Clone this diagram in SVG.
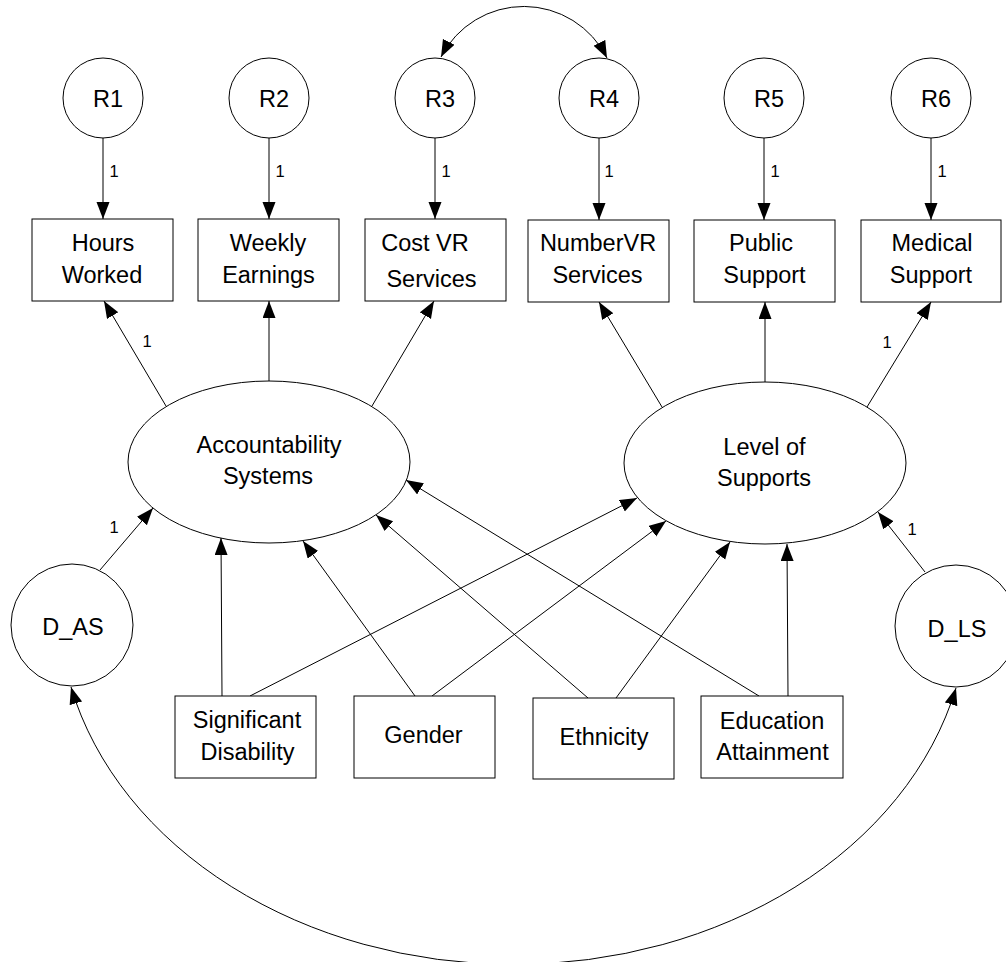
<svg xmlns="http://www.w3.org/2000/svg" width="1006" height="962" viewBox="0 0 1006 962">
<style>
  .n { fill: #fff; stroke: #000; stroke-width: 1; }
  .t { font-family: "Liberation Sans", Arial, sans-serif; font-size: 23.5px; fill: #000; text-anchor: middle; }
  .l { font-family: "Liberation Sans", Arial, sans-serif; font-size: 16.5px; fill: #000; text-anchor: middle; }
  .c { fill: none; stroke: #000; stroke-width: 1; marker-end: url(#ah); }
  .b { fill: none; stroke: #000; stroke-width: 1; marker-start: url(#ah); marker-end: url(#ah); }
</style>
<defs>
  <marker id="ah" markerUnits="userSpaceOnUse" markerWidth="18" markerHeight="14" refX="17" refY="6.5" orient="auto-start-reverse" viewBox="0 0 18 14">
    <path d="M0,0 L17,6.5 L0,13 z" fill="#000"/>
  </marker>
</defs>
<rect width="1006" height="962" fill="#fff"/>

<g id="connectors">
  <line class="c" x1="103" y1="138" x2="103" y2="219"/>
  <line class="c" x1="269" y1="138" x2="269" y2="219"/>
  <line class="c" x1="435" y1="138" x2="435" y2="219"/>
  <line class="c" x1="599" y1="138" x2="599" y2="220"/>
  <line class="c" x1="764" y1="138" x2="764" y2="220"/>
  <line class="c" x1="931" y1="138" x2="931" y2="220"/>
  <path class="b" d="M441,57 A93,93 0 0 1 607,58"/>
  <line class="c" x1="166" y1="406" x2="104" y2="301"/>
  <line class="c" x1="269" y1="381" x2="269" y2="301"/>
  <line class="c" x1="372" y1="406" x2="434" y2="301"/>
  <line class="c" x1="662" y1="407" x2="599" y2="302"/>
  <line class="c" x1="765" y1="382" x2="765" y2="302"/>
  <line class="c" x1="867" y1="407" x2="931" y2="302"/>
  <line class="c" x1="100" y1="570" x2="153" y2="508"/>
  <line class="c" x1="925" y1="572" x2="878" y2="512"/>
  <line class="c" x1="222" y1="696" x2="221" y2="538"/>
  <line class="c" x1="250" y1="696" x2="637" y2="498"/>
  <line class="c" x1="415" y1="696" x2="303" y2="541"/>
  <line class="c" x1="432" y1="696" x2="666" y2="521"/>
  <line class="c" x1="588" y1="698" x2="376" y2="515"/>
  <line class="c" x1="616" y1="698" x2="730" y2="542"/>
  <line class="c" x1="759" y1="696" x2="406" y2="480"/>
  <line class="c" x1="788" y1="696" x2="787" y2="544"/>
  <path class="b" d="M71,687 A455,361 0 0 0 956,688"/>
  <text class="l" x="114" y="177">1</text>
  <text class="l" x="280" y="177">1</text>
  <text class="l" x="446" y="177">1</text>
  <text class="l" x="609" y="177">1</text>
  <text class="l" x="775" y="177">1</text>
  <text class="l" x="942" y="177">1</text>
  <text class="l" x="147" y="347">1</text>
  <text class="l" x="887" y="348">1</text>
  <text class="l" x="114" y="533">1</text>
  <text class="l" x="912" y="535">1</text>
</g>

<g id="R1"><circle class="n" cx="103" cy="98" r="40"/><text class="t" x="108" y="107">R1</text></g>
<g id="R2"><circle class="n" cx="269" cy="98" r="40"/><text class="t" x="274" y="107">R2</text></g>
<g id="R3"><circle class="n" cx="435" cy="98" r="40"/><text class="t" x="440" y="107">R3</text></g>
<g id="R4"><circle class="n" cx="599" cy="98" r="40"/><text class="t" x="604" y="107">R4</text></g>
<g id="R5"><circle class="n" cx="764" cy="98" r="40"/><text class="t" x="769" y="107">R5</text></g>
<g id="R6"><circle class="n" cx="931" cy="98" r="40"/><text class="t" x="936" y="107">R6</text></g>

<g id="HoursWorked"><rect class="n" x="32" y="219" width="141" height="82"/><text class="t" x="103" y="251">Hours</text><text class="t" x="102" y="283">Worked</text></g>
<g id="WeeklyEarnings"><rect class="n" x="198" y="219" width="141" height="82"/><text class="t" x="268" y="251">Weekly</text><text class="t" x="268.5" y="283">Earnings</text></g>
<g id="CostVRServices"><rect class="n" x="365" y="219" width="141" height="82"/><text class="t" x="425" y="251">Cost VR</text><text class="t" x="431.5" y="287">Services</text></g>
<g id="NumberVRServices"><rect class="n" x="528" y="220" width="141" height="82"/><text class="t" x="598" y="251">NumberVR</text><text class="t" x="597.5" y="283">Services</text></g>
<g id="PublicSupport"><rect class="n" x="694" y="220" width="141" height="82"/><text class="t" x="761" y="251">Public</text><text class="t" x="764.5" y="283">Support</text></g>
<g id="MedicalSupport"><rect class="n" x="861" y="220" width="140" height="82"/><text class="t" x="932" y="251">Medical</text><text class="t" x="931" y="283">Support</text></g>

<g id="AccountabilitySystems"><ellipse class="n" cx="269" cy="462" rx="141" ry="81"/><text class="t" x="269" y="453">Accountability</text><text class="t" x="268" y="484">Systems</text></g>
<g id="LevelOfSupports"><ellipse class="n" cx="765" cy="463" rx="141" ry="81"/><text class="t" x="764.5" y="455">Level of</text><text class="t" x="764" y="486">Supports</text></g>

<g id="D_AS"><circle class="n" cx="72" cy="625" r="61"/><text class="t" x="73" y="635">D_AS</text></g>
<g id="D_LS"><circle class="n" cx="956" cy="626" r="61"/><text class="t" x="957" y="637">D_LS</text></g>

<g id="SignificantDisability"><rect class="n" x="175" y="696" width="141" height="82"/><text class="t" x="247" y="728">Significant</text><text class="t" x="247.5" y="760">Disability</text></g>
<g id="Gender"><rect class="n" x="354" y="696" width="141" height="82"/><text class="t" x="423.5" y="743">Gender</text></g>
<g id="Ethnicity"><rect class="n" x="533" y="698" width="141" height="81"/><text class="t" x="604" y="745">Ethnicity</text></g>
<g id="EducationAttainment"><rect class="n" x="701" y="696" width="142" height="82"/><text class="t" x="772" y="729">Education</text><text class="t" x="772.5" y="760">Attainment</text></g>
</svg>
